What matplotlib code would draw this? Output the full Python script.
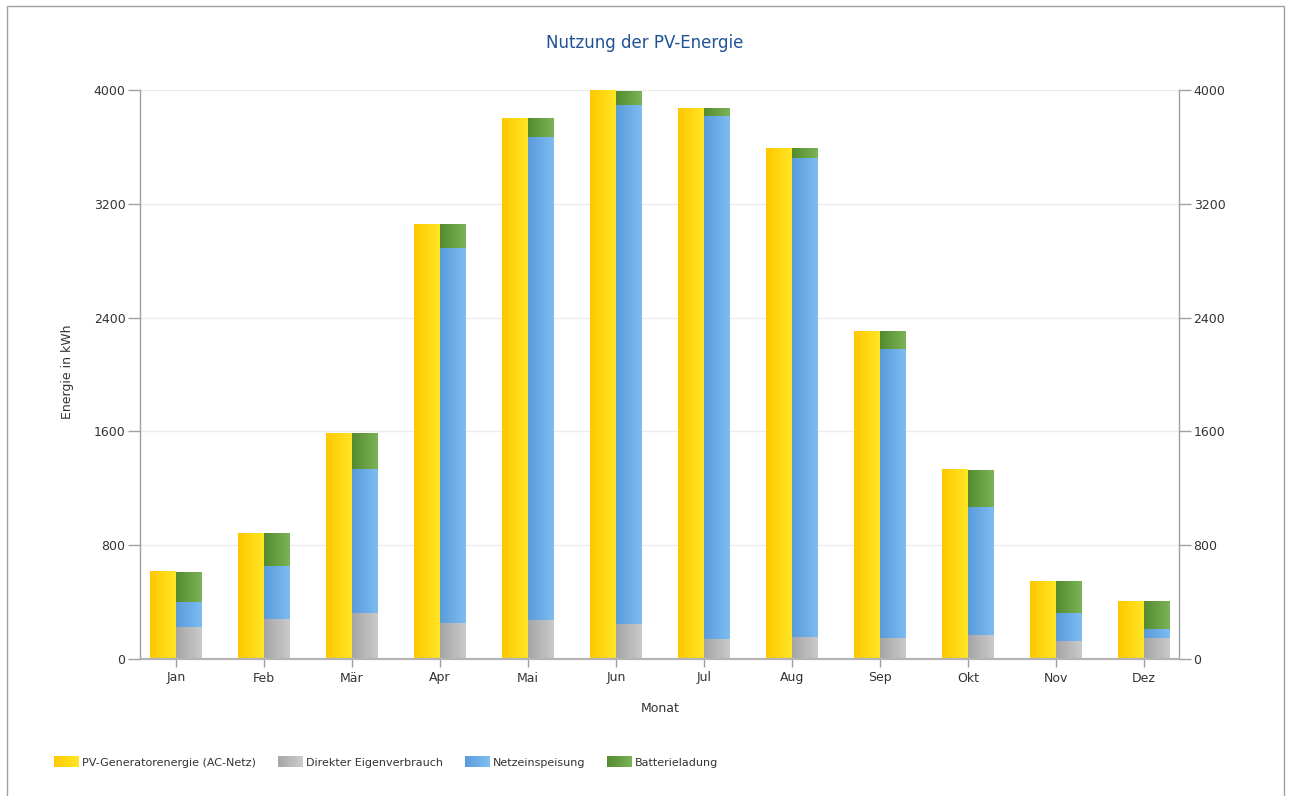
import numpy as np
import matplotlib.pyplot as plt
from matplotlib.colors import LinearSegmentedColormap, to_rgb
from matplotlib.patches import Rectangle
from matplotlib.legend_handler import HandlerBase

plt.rcParams['font.family'] = 'DejaVu Sans'

months = ['Jan', 'Feb', 'Mär', 'Apr', 'Mai', 'Jun', 'Jul', 'Aug', 'Sep', 'Okt', 'Nov', 'Dez']
pv_energy = [612, 879, 1587, 3051, 3803, 3993, 3871, 3590, 2301, 1329, 546, 405]   # PV-Generatorenergie
direct_use = [227, 279, 326, 253, 274, 246, 141, 153, 150, 171, 127, 145]          # Direkter Eigenverbrauch
grid_feed = [176, 375, 1008, 2636, 3396, 3649, 3676, 3367, 2029, 900, 199, 66]    # Netzeinspeisung
battery = [209, 225, 253, 162, 133, 98, 54, 70, 122, 258, 220, 194]               # Batterieladung
yticks = [0, 800, 1600, 2400, 3200, 4000]

# left/right colours of the horizontal gradient on each bar
c_yellow = ('#ffc800', '#ffe524')
c_gray = ('#a6a6a6', '#cacaca')
c_blue = ('#5b9bd9', '#7dbcf3')
c_green = ('#558b2f', '#7db357')

W, H = 1292, 796
fig = plt.figure(figsize=(W / 100, H / 100), dpi=100)
ax = fig.add_axes([140 / W, 1 - 659 / H, (1179 - 140) / W, (659 - 90) / H])

grad = np.linspace(0, 1, 64).reshape(1, -1)


def gradient_bars(x, heights, bottoms, width, colors):
    bars = ax.bar(x, heights, width, bottom=bottoms, align='edge', color='none', zorder=3)
    cmap = LinearSegmentedColormap.from_list('g', list(colors))
    for b in bars:
        x0, y0 = b.get_x(), b.get_y()
        ax.imshow(grad, cmap=cmap, aspect='auto', interpolation='bilinear', zorder=2.5,
                  extent=[x0, x0 + b.get_width(), y0, y0 + b.get_height()])
    return bars


idx = np.arange(len(months))
w = 0.295
direct_use = np.array(direct_use)
grid_feed = np.array(grid_feed)
gradient_bars(idx - w, pv_energy, 0, w, c_yellow)
gradient_bars(idx, direct_use, 0, w, c_gray)
gradient_bars(idx, grid_feed, direct_use, w, c_blue)
gradient_bars(idx, battery, direct_use + grid_feed, w, c_green)

ax.set_xlim(-0.41, 11.40)
ax.set_ylim(0, 4000)
ax.set_xticks(idx)
ax.set_xticklabels(months)
ax.set_yticks(yticks)
ax.yaxis.grid(True, color='#ebebeb', lw=1)
ax.set_axisbelow(True)

ax.spines['top'].set_visible(False)
for s in ['left', 'right']:
    ax.spines[s].set_color('#a0a0a0')
    ax.spines[s].set_linewidth(1)
ax.spines['bottom'].set_color('#b4b4b4')
ax.spines['bottom'].set_linewidth(1.6)
ax.spines['bottom'].set_zorder(4)

ax.tick_params(axis='y', which='both', left=True, right=True, labelleft=True, labelright=True,
               length=8.5, width=1, color='#a0a0a0', pad=2, labelsize=9, labelcolor='#333333')
ax.tick_params(axis='x', length=6, width=1, color='#a0a0a0', pad=3, labelsize=9, labelcolor='#333333')

fig.text(645 / W, 1 - 43 / H, 'Nutzung der PV-Energie', ha='center', va='center',
         fontsize=12, color='#1f5393')
fig.text(67 / W, 1 - 372 / H, 'Energie in kWh', rotation=90, ha='center', va='center',
         fontsize=9, color='#333333')
fig.text(660 / W, 1 - 708 / H, 'Monat', ha='center', va='center', fontsize=9, color='#333333')


class GradientHandler(HandlerBase):
    def __init__(self, colors):
        super().__init__()
        self.colors = colors

    def create_artists(self, legend, orig_handle, xdescent, ydescent, width, height, fontsize, trans):
        c0, c1 = np.array(to_rgb(self.colors[0])), np.array(to_rgb(self.colors[1]))
        n = 24
        arts = []
        for i in range(n):
            t = i / (n - 1)
            r = Rectangle((-xdescent + width * i / n, -ydescent), width / n + 0.3, height,
                          facecolor=c0 * (1 - t) + c1 * t, edgecolor='none', transform=trans)
            arts.append(r)
        return arts


labels = ['PV-Generatorenergie (AC-Netz)', 'Direkter Eigenverbrauch', 'Netzeinspeisung', 'Batterieladung']
color_sets = [c_yellow, c_gray, c_blue, c_green]
handles = [Rectangle((0, 0), 1, 1) for _ in labels]
fig.legend(handles, labels, loc='center left', bbox_to_anchor=(44 / W, 1 - 762 / H), ncol=4,
           frameon=False, fontsize=8, labelcolor='#333333', handlelength=2.2, handleheight=1.1,
           handletextpad=0.3, columnspacing=2.0,
           handler_map={h: GradientHandler(c) for h, c in zip(handles, color_sets)})

# thin frame around the whole chart
fig.add_artist(Rectangle((7 / W, -0.05), (1284 - 7) / W, 1.05 - 6 / H, transform=fig.transFigure,
                         fill=False, edgecolor='#a0a0a0', lw=1))

fig.savefig('out.png', dpi=100)
